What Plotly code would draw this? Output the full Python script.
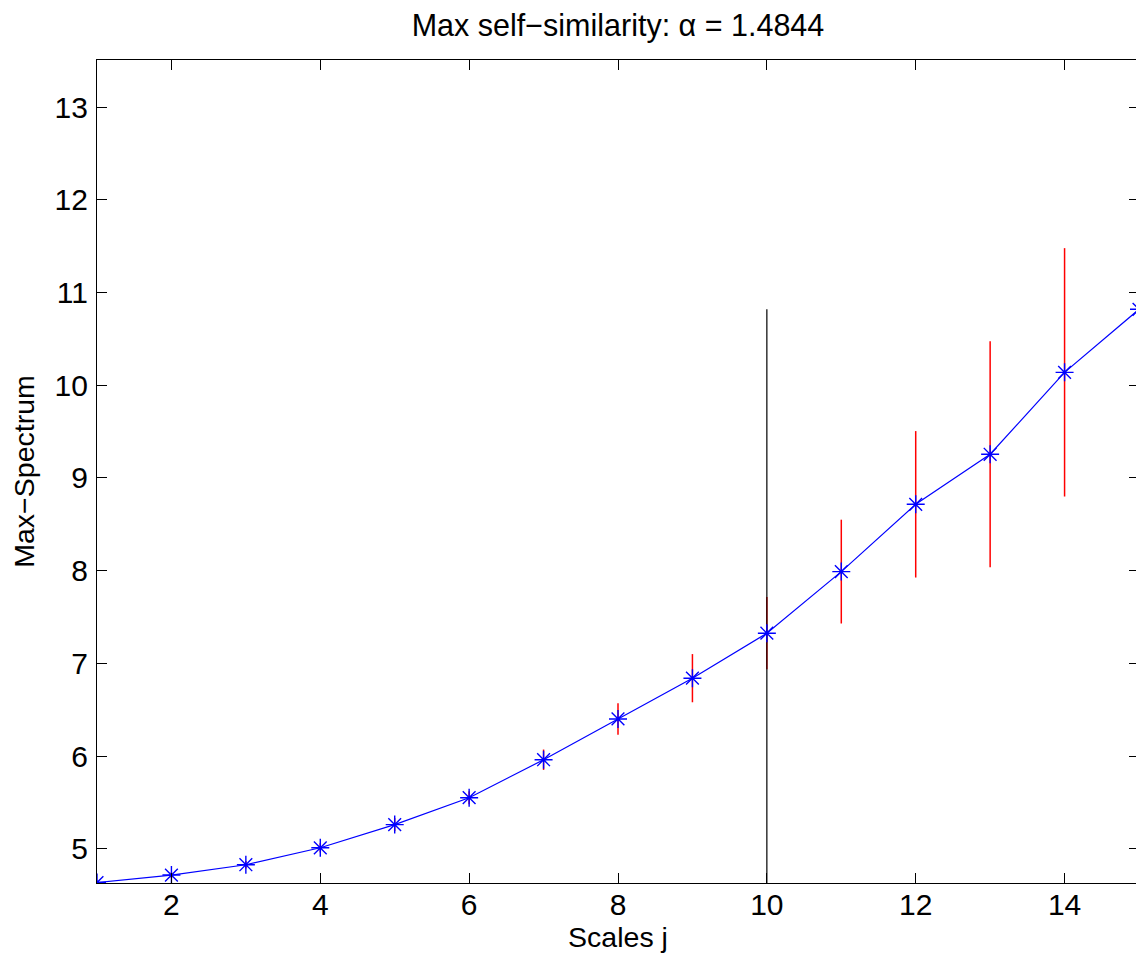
import plotly.graph_objects as go

# ---- data ----
scales_j = list(range(1, 16))
max_spectrum = [4.635, 4.716, 4.827, 5.01, 5.26, 5.55, 5.96, 6.40, 6.84, 7.325,
                7.99, 8.716, 9.256, 10.14, 10.82]
err_half = [0.02, 0.03, 0.04, 0.05, 0.07, 0.07, 0.11, 0.17, 0.26, 0.39,
            0.56, 0.79, 1.22, 1.34, 1.5]
vline_x = [10, 10]
vline_y = [4.5, 10.82]
x_ticks = [2, 4, 6, 8, 10, 12, 14]
y_ticks = [5, 6, 7, 8, 9, 10, 11, 12, 13]
x_range = [1, 15]
y_range = [4.63, 13.51]
title_text = "Max self\u2212similarity: \u03b1 = 1.4844"

FONT = "Liberation Sans, Arial, Helvetica, sans-serif"

fig = go.Figure()

# red error bars
fig.add_trace(go.Scatter(
    x=scales_j, y=max_spectrum, mode="markers",
    marker=dict(size=1, color="rgba(0,0,0,0)"),
    error_y=dict(type="data", array=err_half, visible=True,
                 color="#ff0000", thickness=1.5, width=0),
    hoverinfo="skip", showlegend=False))

# black vertical line
fig.add_trace(go.Scatter(
    x=vline_x, y=vline_y, mode="lines",
    line=dict(color="black", width=1.2), showlegend=False))

# blue line with asterisks
fig.add_trace(go.Scatter(
    x=scales_j, y=max_spectrum, mode="lines+markers",
    line=dict(color="#0000ff", width=1.2),
    marker=dict(symbol="asterisk-open", size=15,
                line=dict(color="#0000ff", width=1.4)),
    showlegend=False))

axis_common = dict(
    showline=True, linecolor="black", linewidth=1.3, mirror="ticks",
    ticks="inside", ticklen=10, tickwidth=1, tickcolor="black",
    showgrid=False, zeroline=False,
    tickfont=dict(family=FONT, size=30, color="black"),
)

fig.update_xaxes(range=x_range, tickvals=x_ticks, ticklabelstandoff=-5,
                 title=dict(text="Scales j", font=dict(family=FONT, size=28.5, color="black"),
                            standoff=4),
                 **axis_common)
fig.update_yaxes(range=y_range, tickvals=y_ticks, ticklabelstandoff=2,
                 title=dict(text="Max\u2212Spectrum", font=dict(family=FONT, size=28.5, color="black"),
                            standoff=11),
                 **axis_common)

fig.update_layout(
    width=1180, height=961,
    margin=dict(l=97, r=41, t=60, b=78),
    paper_bgcolor="white", plot_bgcolor="white",
    title=dict(text=title_text, font=dict(family=FONT, size=30.5, color="black"),
               x=0.5, xanchor="center", xref="paper",
               y=1 - 25 / 961, yanchor="middle", yref="container"),
)

fig.write_html("out.html",
               post_script="document.body.style.overflow='hidden';"
                           "document.documentElement.style.overflow='hidden';")
